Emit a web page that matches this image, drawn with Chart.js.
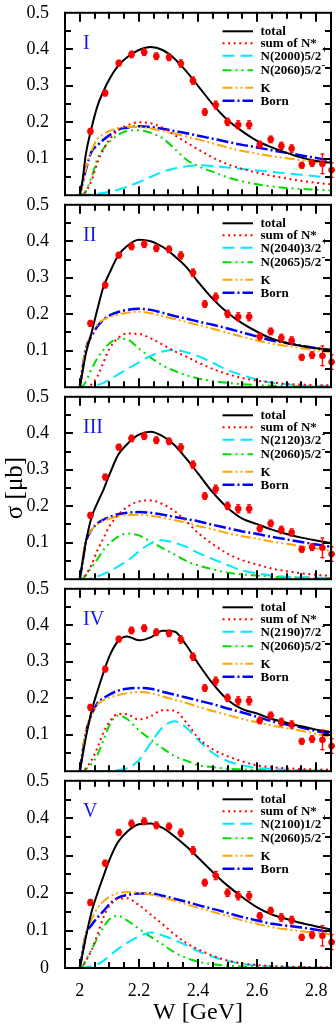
<!DOCTYPE html>
<html><head><meta charset="utf-8">
<script src="https://cdn.jsdelivr.net/npm/chart.js@4.4.1/dist/chart.umd.min.js"></script>
<style>
html,body{margin:0;padding:0;background:#fff;}
#wrap{position:relative;width:336px;height:1027px;overflow:hidden;background:#fff;}
canvas{position:absolute;left:0;}
</style></head><body><div id="wrap"></div>
<script>
// ---- data ----
const W = [2.0, 2.01, 2.02, 2.04, 2.06, 2.08, 2.1, 2.13, 2.16, 2.2, 2.24, 2.28, 2.32, 2.36, 2.4, 2.45, 2.5, 2.55, 2.6, 2.65, 2.7, 2.75, 2.8, 2.85];

const dataW = [2.036, 2.086, 2.132, 2.175, 2.218, 2.259, 2.302, 2.342, 2.383, 2.423, 2.46, 2.5, 2.536, 2.573, 2.609, 2.646, 2.682, 2.717, 2.751, 2.786, 2.821, 2.852];
const dataS = [0.175, 0.28, 0.362, 0.386, 0.392, 0.381, 0.378, 0.361, 0.314, 0.228, 0.247, 0.201, 0.193, 0.193, 0.139, 0.153, 0.135, 0.128, 0.082, 0.088, 0.086, 0.069];
const dataE = [0.008, 0.008, 0.008, 0.009, 0.009, 0.009, 0.009, 0.01, 0.01, 0.009, 0.011, 0.01, 0.011, 0.011, 0.009, 0.009, 0.01, 0.01, 0.008, 0.009, 0.027, 0.02];

const total1 = [0, 0.045, 0.11, 0.185, 0.245, 0.285, 0.318, 0.355, 0.378, 0.398, 0.406, 0.398, 0.375, 0.34, 0.3, 0.249, 0.206, 0.175, 0.149, 0.131, 0.116, 0.103, 0.094, 0.089];
const nstar1 = [0, 0, 0.01, 0.04, 0.09, 0.125, 0.152, 0.178, 0.191, 0.2, 0.197, 0.185, 0.165, 0.145, 0.126, 0.103, 0.085, 0.072, 0.062, 0.053, 0.046, 0.039, 0.034, 0.03];
const resA1 = [0, 0, 0.001, 0.002, 0.004, 0.006, 0.009, 0.015, 0.023, 0.036, 0.05, 0.064, 0.073, 0.079, 0.082, 0.08, 0.076, 0.072, 0.068, 0.064, 0.06, 0.056, 0.052, 0.048];
const resB1 = [0, 0.002, 0.01, 0.05, 0.1, 0.128, 0.146, 0.166, 0.176, 0.178, 0.171, 0.156, 0.128, 0.098, 0.08, 0.064, 0.049, 0.038, 0.03, 0.024, 0.02, 0.017, 0.015, 0.013];
const kaon1 = [0, 0.03, 0.07, 0.122, 0.155, 0.167, 0.176, 0.184, 0.187, 0.187, 0.183, 0.176, 0.169, 0.161, 0.153, 0.142, 0.131, 0.121, 0.114, 0.107, 0.101, 0.096, 0.091, 0.087];
const born1 = [0, 0.035, 0.068, 0.12, 0.137, 0.152, 0.164, 0.18, 0.185, 0.189, 0.187, 0.182, 0.176, 0.17, 0.163, 0.155, 0.146, 0.138, 0.131, 0.123, 0.116, 0.109, 0.102, 0.095];

const total2 = [0, 0.045, 0.09, 0.15, 0.215, 0.275, 0.312, 0.361, 0.387, 0.404, 0.4, 0.385, 0.36, 0.33, 0.289, 0.242, 0.204, 0.175, 0.152, 0.133, 0.121, 0.113, 0.107, 0.103];
const nstar2 = [0, 0, 0, 0.008, 0.03, 0.068, 0.105, 0.135, 0.147, 0.146, 0.134, 0.117, 0.099, 0.084, 0.068, 0.05, 0.036, 0.025, 0.018, 0.013, 0.009, 0.007, 0.006, 0.005];
const resA2 = [0, 0, 0, 0.002, 0.006, 0.012, 0.02, 0.035, 0.05, 0.068, 0.086, 0.098, 0.102, 0.096, 0.085, 0.067, 0.047, 0.033, 0.021, 0.012, 0.008, 0.005, 0.004, 0.003];
const resB2 = [0, 0.003, 0.015, 0.05, 0.08, 0.102, 0.12, 0.133, 0.131, 0.106, 0.081, 0.06, 0.045, 0.033, 0.024, 0.017, 0.012, 0.008, 0.006, 0.004, 0.003, 0.002, 0.002, 0.001];
const kaon2 = [0, 0.055, 0.105, 0.145, 0.172, 0.185, 0.192, 0.199, 0.204, 0.207, 0.203, 0.195, 0.187, 0.179, 0.171, 0.16, 0.149, 0.138, 0.128, 0.119, 0.113, 0.107, 0.101, 0.096];
const born2 = [0, 0.055, 0.105, 0.14, 0.167, 0.185, 0.196, 0.206, 0.212, 0.215, 0.212, 0.204, 0.195, 0.188, 0.18, 0.171, 0.161, 0.15, 0.139, 0.128, 0.121, 0.114, 0.107, 0.101];

const total3 = [0, 0.05, 0.1, 0.17, 0.21, 0.245, 0.286, 0.341, 0.37, 0.396, 0.404, 0.392, 0.368, 0.331, 0.29, 0.238, 0.196, 0.166, 0.151, 0.136, 0.124, 0.114, 0.106, 0.099];
const nstar3 = [0, 0.003, 0.012, 0.04, 0.08, 0.112, 0.145, 0.176, 0.198, 0.213, 0.216, 0.206, 0.187, 0.159, 0.127, 0.096, 0.07, 0.052, 0.04, 0.029, 0.022, 0.016, 0.012, 0.009];
const resA3 = [0, 0, 0, 0.003, 0.008, 0.014, 0.022, 0.035, 0.05, 0.076, 0.098, 0.107, 0.1, 0.089, 0.072, 0.055, 0.039, 0.024, 0.016, 0.01, 0.007, 0.005, 0.004, 0.003];
const resB3 = [0, 0.002, 0.01, 0.032, 0.055, 0.08, 0.098, 0.117, 0.125, 0.12, 0.103, 0.085, 0.068, 0.05, 0.038, 0.027, 0.018, 0.013, 0.01, 0.007, 0.006, 0.005, 0.004, 0.003];
const kaon3 = [0, 0.06, 0.105, 0.135, 0.15, 0.16, 0.166, 0.173, 0.176, 0.177, 0.174, 0.169, 0.162, 0.155, 0.146, 0.137, 0.126, 0.118, 0.111, 0.103, 0.097, 0.09, 0.084, 0.078];
const born3 = [0, 0.05, 0.1, 0.135, 0.153, 0.163, 0.17, 0.178, 0.182, 0.184, 0.182, 0.177, 0.171, 0.165, 0.159, 0.149, 0.14, 0.131, 0.124, 0.116, 0.109, 0.102, 0.095, 0.089];

const total4 = [0, 0.045, 0.09, 0.165, 0.22, 0.27, 0.315, 0.357, 0.369, 0.359, 0.367, 0.385, 0.383, 0.346, 0.296, 0.24, 0.196, 0.17, 0.158, 0.143, 0.133, 0.123, 0.114, 0.107];
const nstar4 = [0, 0, 0.008, 0.03, 0.065, 0.106, 0.135, 0.157, 0.156, 0.142, 0.151, 0.167, 0.166, 0.134, 0.092, 0.06, 0.041, 0.027, 0.016, 0.011, 0.008, 0.006, 0.005, 0.004];
const resA4 = [0, 0, 0, 0, 0, 0, 0.001, 0.003, 0.008, 0.03, 0.077, 0.12, 0.137, 0.12, 0.086, 0.05, 0.028, 0.016, 0.009, 0.006, 0.004, 0.003, 0.002, 0.002];
const resB4 = [0, 0, 0.005, 0.02, 0.045, 0.085, 0.126, 0.153, 0.143, 0.112, 0.087, 0.063, 0.042, 0.029, 0.017, 0.011, 0.007, 0.005, 0.004, 0.003, 0.002, 0.002, 0.001, 0.001];
const kaon4 = [0, 0.055, 0.112, 0.15, 0.183, 0.195, 0.202, 0.209, 0.214, 0.217, 0.214, 0.205, 0.196, 0.187, 0.177, 0.165, 0.154, 0.143, 0.134, 0.125, 0.118, 0.111, 0.102, 0.094];
const born4 = [0, 0.055, 0.105, 0.155, 0.187, 0.2, 0.21, 0.221, 0.226, 0.228, 0.226, 0.218, 0.21, 0.202, 0.194, 0.184, 0.172, 0.161, 0.149, 0.137, 0.128, 0.12, 0.11, 0.102];

const total5 = [0, 0.04, 0.08, 0.15, 0.2, 0.245, 0.288, 0.337, 0.364, 0.384, 0.386, 0.374, 0.352, 0.325, 0.295, 0.256, 0.22, 0.189, 0.162, 0.143, 0.131, 0.12, 0.111, 0.103];
const nstar5 = [0, 0.005, 0.018, 0.048, 0.09, 0.135, 0.165, 0.185, 0.186, 0.168, 0.143, 0.117, 0.09, 0.067, 0.05, 0.033, 0.02, 0.012, 0.008, 0.005, 0.004, 0.003, 0.002, 0.002];
const resA5 = [0, 0.001, 0.002, 0.005, 0.01, 0.019, 0.032, 0.051, 0.067, 0.084, 0.095, 0.087, 0.075, 0.061, 0.045, 0.03, 0.019, 0.011, 0.007, 0.004, 0.003, 0.002, 0.001, 0.001];
const resB5 = [0, 0.005, 0.02, 0.05, 0.08, 0.108, 0.13, 0.139, 0.127, 0.105, 0.083, 0.063, 0.042, 0.027, 0.017, 0.01, 0.006, 0.004, 0.003, 0.002, 0.002, 0.001, 0.001, 0.001];
const kaon5 = [0, 0.05, 0.09, 0.13, 0.16, 0.178, 0.19, 0.2, 0.203, 0.201, 0.196, 0.188, 0.18, 0.17, 0.161, 0.15, 0.139, 0.127, 0.118, 0.109, 0.103, 0.098, 0.094, 0.09];
const born5 = [0, 0.045, 0.087, 0.115, 0.135, 0.152, 0.17, 0.188, 0.195, 0.199, 0.199, 0.193, 0.185, 0.177, 0.168, 0.158, 0.147, 0.136, 0.127, 0.118, 0.113, 0.108, 0.102, 0.096];

const panelLabels = ['I', 'II', 'III', 'IV', 'V'];
const resANames = ['N(2000)5/2', 'N(2040)3/2', 'N(2120)3/2', 'N(2190)7/2', 'N(2100)1/2'];
const resASigns = ['+', '+', '-', '-', '+'];
const resBNames = ['N(2060)5/2', 'N(2065)5/2', 'N(2060)5/2', 'N(2060)5/2', 'N(2060)5/2'];
const resBSigns = ['-', '-', '-', '-', '-'];

const xTickValues = [2, 2.2, 2.4, 2.6, 2.8];
const xTickLabels = ['2', '2.2', '2.4', '2.6', '2.8'];
const yTickValues = [0, 0.1, 0.2, 0.3, 0.4, 0.5];
const yTickLabels = ['0', '0.1', '0.2', '0.3', '0.4', '0.5'];

const panels = [
  {total: total1, nstar: nstar1, resA: resA1, resB: resB1, kaon: kaon1, born: born1},
  {total: total2, nstar: nstar2, resA: resA2, resB: resB2, kaon: kaon2, born: born2},
  {total: total3, nstar: nstar3, resA: resA3, resB: resB3, kaon: kaon3, born: born3},
  {total: total4, nstar: nstar4, resA: resA4, resB: resB4, kaon: kaon4, born: born4},
  {total: total5, nstar: nstar5, resA: resA5, resB: resB5, kaon: kaon5, born: born5}
];

// ---- rendering ----
const SERIF = "'Liberation Serif', 'Times New Roman', serif";
Chart.defaults.font.family = SERIF;
Chart.defaults.color = '#000';

function curve(label, vals, color, dash, width, sup) {
  return {
    label: label, sup: sup || '',
    data: W.map((w, i) => ({x: w, y: vals[i]})),
    borderColor: color, backgroundColor: color, borderDash: dash, borderWidth: width,
    pointRadius: 0, fill: false, cubicInterpolationMode: 'monotone'
  };
}

function seg(ctx, x1, y1, x2, y2) { ctx.beginPath(); ctx.moveTo(x1, y1); ctx.lineTo(x2, y2); ctx.stroke(); }

function drawFrame(chart) {
  const ctx = chart.ctx, a = chart.chartArea, xs = chart.scales.x, ys = chart.scales.y;
  ctx.save();
  ctx.strokeStyle = '#000'; ctx.lineWidth = 2; ctx.setLineDash([]);
  ctx.strokeRect(a.left, a.top, a.right - a.left, a.bottom - a.top);
  for (let i = 1; i < 18; i++) {
    const px = Math.round(xs.getPixelForValue(1.95 + i * 0.05));
    const L = (i % 4 === 1) ? 9 : 6;
    seg(ctx, px, a.top, px, a.top + L);
    seg(ctx, px, a.bottom, px, a.bottom - L);
  }
  for (let j = 1; j < 10; j++) {
    const py = Math.round(ys.getPixelForValue(j * 0.05));
    const L = (j % 2 === 0) ? 8 : 6;
    seg(ctx, a.left, py, a.left + L, py);
    seg(ctx, a.right, py, a.right - L, py);
  }
  ctx.restore();
}

function drawErrors(chart) {
  const ctx = chart.ctx, xs = chart.scales.x, ys = chart.scales.y;
  ctx.save();
  ctx.strokeStyle = '#f00'; ctx.lineWidth = 1.3; ctx.setLineDash([]);
  dataW.forEach((w, i) => {
    const px = xs.getPixelForValue(w);
    const y1 = ys.getPixelForValue(dataS[i] + dataE[i]);
    const y2 = ys.getPixelForValue(dataS[i] - dataE[i]);
    seg(ctx, px, y1, px, y2);
    seg(ctx, px - 2, y1, px + 2, y1);
    seg(ctx, px - 2, y2, px + 2, y2);
  });
  ctx.restore();
}

function drawLegend(chart, k) {
  const ctx = chart.ctx, a = chart.chartArea;
  const rows = [18.5, 30.5, 43, 57.5, 75, 88];
  ctx.save();
  chart.data.datasets.slice(1).forEach((d, i) => {
    const yy = a.top + rows[i];
    ctx.beginPath();
    ctx.setLineDash(d.borderDash);
    ctx.lineWidth = d.borderWidth; ctx.strokeStyle = d.borderColor;
    ctx.moveTo(222.5, yy); ctx.lineTo(253, yy); ctx.stroke();
    ctx.setLineDash([]);
    ctx.fillStyle = '#000'; ctx.textAlign = 'left'; ctx.textBaseline = 'middle';
    ctx.font = 'bold 13px ' + SERIF;
    ctx.fillText(d.label, 260.5, yy + 0.5);
    if (d.sup) {
      const w = ctx.measureText(d.label).width;
      ctx.font = 'bold 10px ' + SERIF;
      ctx.fillText(d.sup, 260.5 + w + 0.5, yy - 5);
    }
  });
  ctx.fillStyle = '#1414ff'; ctx.font = '20px ' + SERIF;
  ctx.textAlign = 'left'; ctx.textBaseline = 'middle';
  ctx.fillText(panelLabels[k], 83, a.top + 31);
  ctx.restore();
}

const wrap = document.getElementById('wrap');
panels.forEach((p, k) => {
  const top = 8 + 192 * k;
  const cTop = top - 14;
  const last = k === 4;
  const h = last ? 1027 - cTop : 220;
  const cv = document.createElement('canvas');
  cv.width = 336; cv.height = h;
  cv.style.top = cTop + 'px'; cv.style.width = '336px'; cv.style.height = h + 'px';
  wrap.appendChild(cv);
  const deco = {
    id: 'deco' + k,
    afterDatasetsDraw(chart) { drawErrors(chart); drawFrame(chart); },
    afterDraw(chart) { drawLegend(chart, k); }
  };
  new Chart(cv, {
    type: 'line',
    data: {datasets: [
      {label: 'data', data: dataW.map((w, i) => ({x: w, y: dataS[i]})), showLine: false,
       pointRadius: 3.1, pointBackgroundColor: '#f00', pointBorderColor: '#e00000', pointBorderWidth: 0.5, clip: false},
      curve('total', p.total, '#000000', [], 2),
      curve('sum of N*', p.nstar, '#ff0000', [2, 3.6], 2),
      curve(resANames[k], p.resA, '#00e8ff', [12, 6], 2, resASigns[k]),
      curve(resBNames[k], p.resB, '#00dd00', [9, 4, 2, 4, 2, 4], 2, resBSigns[k]),
      curve('K', p.kaon, '#ffa500', [10, 3, 2, 3, 2, 3], 2),
      curve('Born', p.born, '#0000ff', [12, 3, 2, 3], 2.5)
    ]},
    options: {
      responsive: false, animation: false, events: [],
      layout: {padding: {left: 0, right: 5, top: 14, bottom: last ? 0 : 14}},
      scales: {
        x: {
          type: 'linear', min: 1.95, max: 2.85, display: last,
          grid: {display: false}, border: {display: false},
          afterBuildTicks: ax => { ax.ticks = xTickValues.map(v => ({value: v})); },
          ticks: {autoSkip: false, maxRotation: 0, padding: 4, font: {size: 18}, color: '#000',
                  callback: (v, i) => xTickLabels[i]},
          title: {display: last, text: 'W [GeV]', font: {size: 24}, padding: {top: 0, bottom: 0}, color: '#000'},
          afterFit: ax => { ax.height = last ? 59 : 0; }
        },
        y: {
          type: 'linear', min: 0, max: 0.5,
          grid: {display: false}, border: {display: false},
          afterBuildTicks: ax => { ax.ticks = yTickValues.map(v => ({value: v})); },
          ticks: {autoSkip: false, padding: 8, font: {size: 18}, color: '#000',
                  callback: (v, i) => (i === 0 && !last) ? '' : yTickLabels[i]},
          title: {display: k === 2, text: 'σ [μb]', font: {size: 25}, padding: {top: 0, bottom: 0}, color: '#000'},
          afterFit: ax => { ax.width = 65; }
        }
      },
      plugins: {legend: {display: false}, tooltip: {enabled: false}}
    },
    plugins: [deco]
  });
});
</script>
</body></html>
